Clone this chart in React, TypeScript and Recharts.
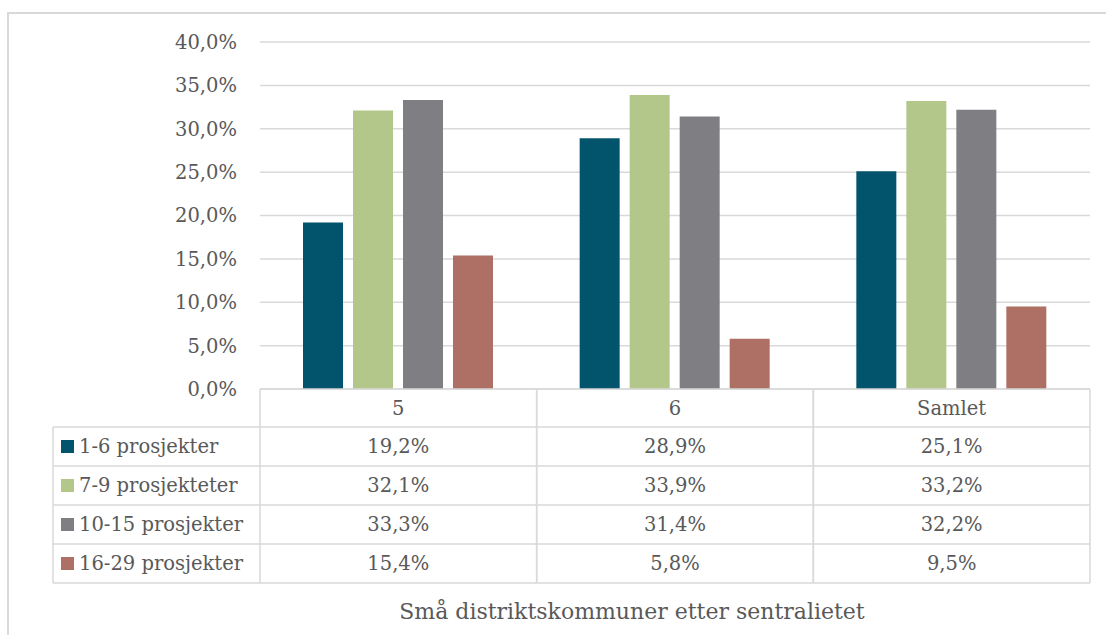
import { BarChart, Bar, XAxis, YAxis, CartesianGrid } from 'recharts';

const categories = ['5', '6', 'Samlet'];
const seriesNames = ['1-6 prosjekter', '7-9 prosjekteter', '10-15 prosjekter', '16-29 prosjekter'];
const s1 = [19.2, 28.9, 25.1];
const s2 = [32.1, 33.9, 33.2];
const s3 = [33.3, 31.4, 32.2];
const s4 = [15.4, 5.8, 9.5];
const yTicks = [0, 5, 10, 15, 20, 25, 30, 35, 40];
const title = 'Små distriktskommuner etter sentralietet';

const colors = ['#02546C', '#B3C78B', '#7F7E83', '#AE6F65'];
const seriesValues = [s1, s2, s3, s4];
const keys = ['a', 'b', 'c', 'd'];

const data = categories.map((c, i) => ({
  cat: c,
  a: s1[i],
  b: s2[i],
  c: s3[i],
  d: s4[i],
}));

const W = 1106;
const H = 635;
const PLOT_LEFT = 260;
const PLOT_RIGHT = 1090;
const PLOT_TOP = 42;
const PLOT_BOTTOM = 389;
const COL_W = (PLOT_RIGHT - PLOT_LEFT) / categories.length;
const ROW_TOPS = [389, 427, 466, 505, 544, 583];
const LABEL_LEFT = 53;
const TEXT = '#595959';
const LINE = '#D9D9D9';
const FONT = '"DejaVu Serif", serif';
const FS = 19.5;

const fmt = (v: number) => v.toFixed(1).replace('.', ',') + '%';

const TableTick = (props: any) => {
  const { x, index, payload } = props;
  const left = x - COL_W / 2;
  const right = x + COL_W / 2;
  const rowMid = (r: number) => (ROW_TOPS[r] + ROW_TOPS[r + 1]) / 2;
  return (
    <g>
      {/* column borders */}
      <line x1={left} x2={left} y1={ROW_TOPS[0]} y2={ROW_TOPS[5]} stroke={LINE} strokeWidth={1.5} />
      <line x1={right} x2={right} y1={ROW_TOPS[0]} y2={ROW_TOPS[5]} stroke={LINE} strokeWidth={1.5} />
      <text x={x} y={rowMid(0)} dy="0.35em" textAnchor="middle" fill={TEXT} fontSize={FS} fontFamily={FONT}>
        {payload.value}
      </text>
      {seriesValues.map((vals, r) => (
        <text key={r} x={x} y={rowMid(r + 1)} dy="0.35em" textAnchor="middle" fill={TEXT} fontSize={FS} fontFamily={FONT}>
          {fmt(vals[index])}
        </text>
      ))}
      {index === 0 && (
        <g>
          <line x1={PLOT_LEFT} x2={PLOT_RIGHT} y1={ROW_TOPS[0]} y2={ROW_TOPS[0]} stroke={LINE} strokeWidth={1.5} />
          {ROW_TOPS.slice(1).map((ry, k) => (
            <line key={k} x1={LABEL_LEFT} x2={PLOT_RIGHT} y1={ry} y2={ry} stroke={LINE} strokeWidth={1.5} />
          ))}
          <line x1={LABEL_LEFT} x2={LABEL_LEFT} y1={ROW_TOPS[1]} y2={ROW_TOPS[5]} stroke={LINE} strokeWidth={1.5} />
          {seriesNames.map((name, r) => (
            <g key={name}>
              <rect x={61} y={rowMid(r + 1) - 6.5} width={13} height={13} fill={colors[r]} />
              <text x={79} y={rowMid(r + 1)} dy="0.35em" textAnchor="start" fill={TEXT} fontSize={FS} fontFamily={FONT}>
                {name}
              </text>
            </g>
          ))}
        </g>
      )}
    </g>
  );
};

export default function App() {
  return (
    <div style={{ position: 'absolute', left: 0, top: 0, width: W, height: H, overflow: 'hidden', background: '#fff' }}>
      <div
        style={{
          position: 'absolute',
          left: 7,
          top: 12,
          width: 1120,
          height: 660,
          border: '2px solid #D9D9D9',
          boxSizing: 'border-box',
        }}
      />
      <div style={{ position: 'absolute', left: 0, top: 0 }}>
        <BarChart
          width={W}
          height={H}
          data={data}
          margin={{ top: PLOT_TOP, right: W - PLOT_RIGHT, bottom: 0, left: 0 }}
          barSize={40}
          barGap={10}
        >
          <CartesianGrid vertical={false} stroke={LINE} strokeWidth={1.5} />
          <YAxis
            width={PLOT_LEFT}
            domain={[0, 40]}
            ticks={yTicks}
            tickFormatter={fmt}
            axisLine={false}
            tickLine={false}
            tickSize={0}
            tickMargin={23}
            tick={{ fill: TEXT, fontSize: FS, fontFamily: FONT }}
          />
          <XAxis
            dataKey="cat"
            height={H - PLOT_BOTTOM}
            axisLine={false}
            tickLine={false}
            tickSize={0}
            tickMargin={0}
            interval={0}
            tick={<TableTick />}
            label={{ value: title, position: 'insideBottom', offset: 16, dx: -43, fill: TEXT, fontSize: 22, fontFamily: FONT }}
          />
          {keys.map((k, i) => (
            <Bar key={k} dataKey={k} name={seriesNames[i]} fill={colors[i]} isAnimationActive={false} />
          ))}
        </BarChart>
      </div>
    </div>
  );
}
